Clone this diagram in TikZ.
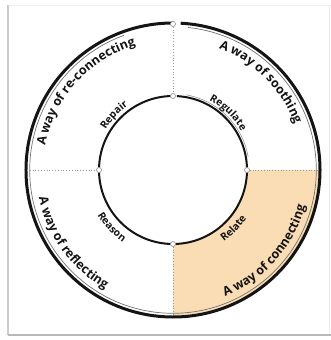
\documentclass[tikz,border=0pt]{standalone}
\usepackage{fontspec}
\setmainfont{Open Sans}
\usetikzlibrary{decorations.text,calc}
\definecolor{peach}{RGB}{250,221,180}
\definecolor{ink}{RGB}{20,20,20}
\begin{document}
\begin{tikzpicture}[x=1pt,y=1pt,
  outerlbl/.style={decorate, decoration={text along path, text align=center, text color=ink,
     text={|\bfseries\fontsize{12.5}{14}\selectfont|#1}}},
  innerlbl/.style={decorate, decoration={text along path, text align=center, text color=ink,
     text={|\bfseries\fontsize{10.3}{12}\selectfont|#1}}},
  marker/.style={circle, draw=gray!80, fill=white, line width=0.7pt, inner sep=0pt, minimum size=5pt},
  dotline/.style={draw=gray!80, line width=0.8pt, dotted},
  ring/.style={draw=ink, line width=3pt},
  ringthin/.style={draw=black!55, line width=0.7pt},
  iring/.style={draw=ink, line width=2pt},
  iringthin/.style={draw=black!45, line width=0.5pt}]
\useasboundingbox (0,0) rectangle (331,340);
\fill[white] (0,0) rectangle (331,340);
% card
\draw[gray!12, line width=0.8pt] (8,335) -- (331,335);
\draw[gray!15, line width=0.8pt] (329,335) -- (329,5);
\draw[gray!40, line width=1.6pt] (8,335) -- (8,5);
\draw[gray!55, line width=2.2pt] (8,5) -- (331,5);
\coordinate (c) at (173,170);
% peach sector
\fill[peach] ($(c)+(0:147)$) arc[start angle=0, end angle=-90, radius=147]
  -- ($(c)+(-90:74)$) arc[start angle=-90, end angle=0, radius=74] -- cycle;
% rings
\draw[ring] ($(c)+(87:147)$) arc[start angle=87, end angle=-270, radius=147];
\draw[ringthin] ($(c)+(84:143.3)$) arc[start angle=84, end angle=-250, radius=143.3];
\draw[iring] ($(c)+(87:74)$) arc[start angle=87, end angle=-270, radius=74];
\draw[iringthin] ($(c)+(80:76.3)$) arc[start angle=80, end angle=10, radius=76.3];
% coordinates and markers
\node[marker] (mto) at ($(c)+(90:146)$) {};
\node[marker] (mti) at ($(c)+(90:74)$) {};
\node[marker] (mli) at ($(c)+(180:74)$) {};
\node[marker] (mri) at ($(c)+(0:74)$) {};
\node[marker] (mbi) at ($(c)+(-90:74)$) {};
\coordinate (lo) at ($(c)+(180:146)$);
\coordinate (ro) at ($(c)+(0:146)$);
\coordinate (bo) at ($(c)+(-90:146)$);
\draw[dotline] (mto) -- (mti);
\draw[dotline] (lo) -- (mli);
\draw[dotline] (mri) -- (ro);
\draw[dotline] (mbi) -- (bo);
% outer labels
\path[outerlbl={A way of re-connecting}] ($(c)+(178:130)$) arc[start angle=178, end angle=98, radius=130];
\path[outerlbl={A way of soothing}] ($(c)+(85:130)$) arc[start angle=85, end angle=5, radius=130];
\path[outerlbl={A way of reflecting}] ($(c)+(176:137)$) arc[start angle=176, end angle=256, radius=137];
\path[outerlbl={A way of connecting}] ($(c)+(-82:137)$) arc[start angle=-82, end angle=-1, radius=137];
% inner labels
\path[innerlbl={Repair}] ($(c)+(167:78.5)$) arc[start angle=167, end angle=107, radius=78.5];
\path[innerlbl={Regulate}] ($(c)+(76:78.5)$) arc[start angle=76, end angle=16, radius=78.5];
\path[innerlbl={Reason}] ($(c)+(193:88)$) arc[start angle=193, end angle=253, radius=88];
\path[innerlbl={Relate}] ($(c)+(-74:88)$) arc[start angle=-74, end angle=-14, radius=88];
\end{tikzpicture}
\end{document}
